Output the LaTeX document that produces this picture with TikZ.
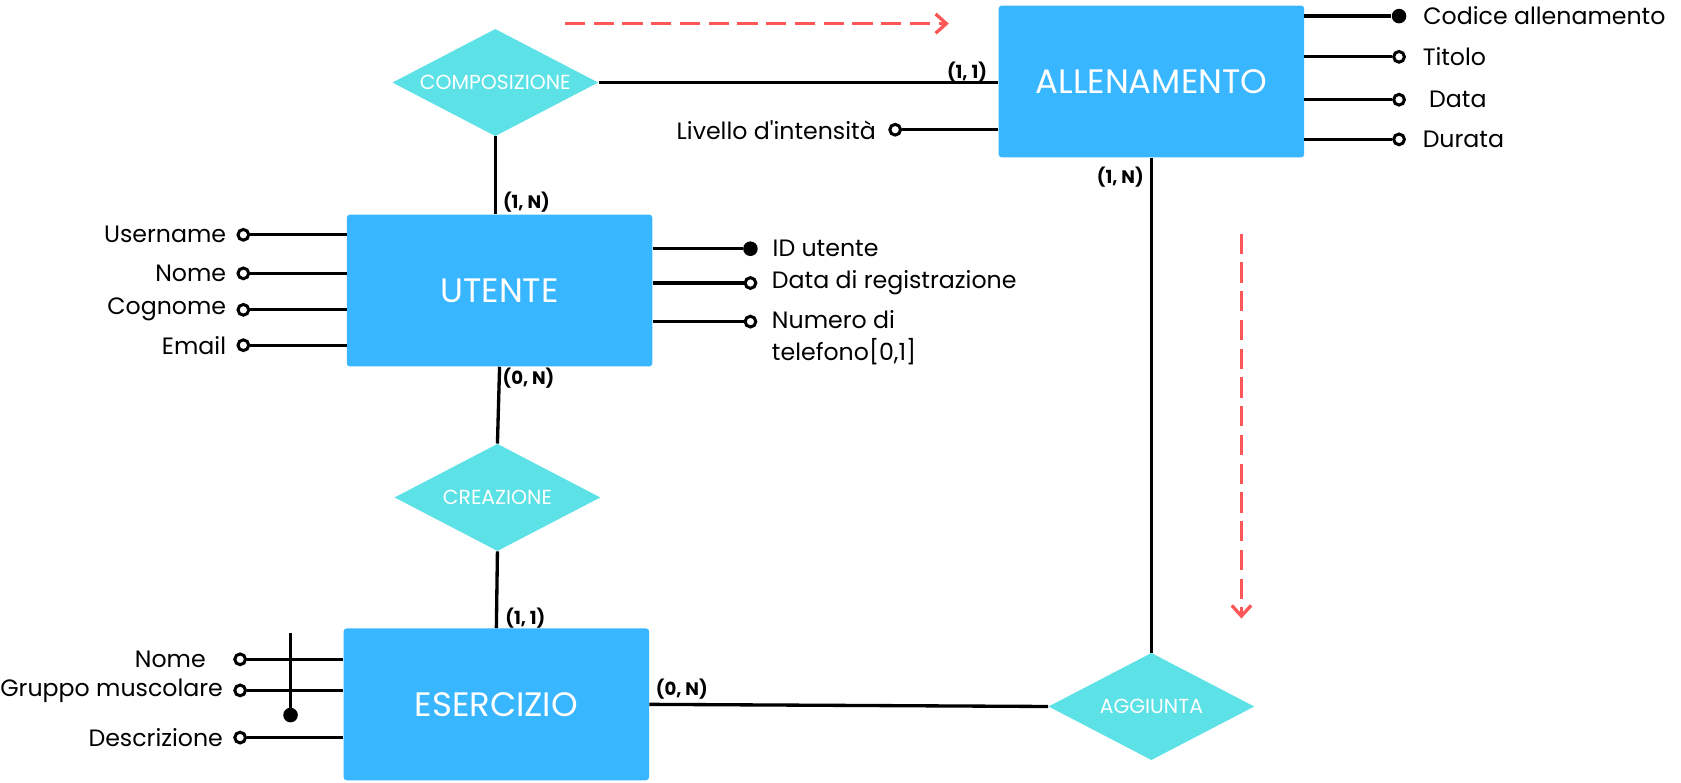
\documentclass[tikz,border=0pt]{standalone}
\usepackage{fontspec}
\setmainfont{Poppins}
\usetikzlibrary{shapes.geometric,arrows.meta,positioning}
\definecolor{entblue}{HTML}{38B6FF}
\definecolor{relcyan}{HTML}{5CE1E6}
\definecolor{arrred}{HTML}{FF5757}

\begin{document}
\begin{tikzpicture}[x=0.025cm,y=-0.025cm]%
  \tikzstyle{entn}=[rectangle,fill=entblue,rounded corners=2pt,text=white,inner sep=0,
    minimum width=7.12cm,minimum height=3.54cm,font=\fontsize{22.5}{26}\selectfont]
  \tikzstyle{reln}=[diamond,fill=relcyan,text=white,inner sep=0,aspect=1.92,
    minimum width=4.8cm,minimum height=2.5cm,font=\fontsize{13.5}{16}\selectfont]
  \tikzstyle{keyn}=[circle,fill=black,inner sep=0,minimum size=0.34cm]
  \tikzstyle{attd}=[circle,draw=black,fill=white,line width=2pt,inner sep=0,minimum size=0.25cm]
  \tikzstyle{attn}=[inner sep=1pt,font=\fontsize{15.7}{21}\selectfont]
  \tikzstyle{cardn}=[inner sep=0,font=\bfseries\fontsize{12}{14}\selectfont]
  \tikzstyle{linkn}=[draw=black,line width=2.2pt]
  \tikzstyle{redarr}=[draw=arrred,line width=2.2pt,dash pattern=on 0.47cm off 0.2cm,
    -{Straight Barb[length=2.5mm,width=4.5mm,line width=2.2pt]}]
  \useasboundingbox (0,0) rectangle (1568,730);
  % entities and relations
  \node(alle)[entn] at (1074,76){ALLENAMENTO};
  \node(uten)[entn] at (466,271){UTENTE};
  \node(eser)[entn] at (463,657){ESERCIZIO};
  \node(comp)[reln] at (462,77){COMPOSIZIONE};
  \node(crea)[reln] at (464,464){CREAZIONE};
  \node(aggi)[reln] at (1074,659){AGGIUNTA};
  \draw[linkn] (comp.east) -- (comp.east -| alle.west);
  \draw[linkn] (comp.south) -- (comp.south |- uten.north);
  \draw[linkn] (uten.south) -- (crea.north);
  \draw[linkn] (crea.south) -- (eser.north);
  \draw[linkn] (eser.east) -- (aggi.west);
  \draw[linkn] (alle.south) -- (aggi.north);
  % cardinalities
  \node(c11a)[cardn] at (902,67){(1, 1)};
  \node(c1nu)[cardn] at (491,189){(1, N)};
  \node(c0nu)[cardn] at (493,353){(0, N)};
  \node(c11e)[cardn] at (490,577){(1, 1)};
  \node(c0ne)[cardn] at (636,643){(0, N)};
  \node(c1na)[cardn] at (1045,165){(1, N)};
  % ALLENAMENTO attributes
  \node(cod)[keyn] at (1305,15){};
  \node(codt)[attn,right=3.5mm of cod]{Codice allenamento};
  \node(tit)[attd] at (1305,53){};
  \node(titt)[attn,right=3.5mm of tit]{Titolo};
  \node(dat)[attd] at (1305,93){};
  \node(datt)[attn,right=5mm of dat]{Data};
  \node(dur)[attd] at (1305,130){};
  \node(durt)[attn,right=3.5mm of dur]{Durata};
  \node(liv)[attd] at (835,121){};
  \node(livt)[attn,left=2.5mm of liv]{Livello d\textquotesingle intensità};
  \draw[linkn] (alle.east |- cod) -- (cod);
  \draw[linkn] (alle.east |- tit) -- (tit);
  \draw[linkn] (alle.east |- dat) -- (dat);
  \draw[linkn] (alle.east |- dur) -- (dur);
  \draw[linkn] (alle.west |- liv) -- (liv);
  % UTENTE attributes
  \node(usr)[attd] at (227,219){};
  \node(usrt)[attn,left=2mm of usr]{Username};
  \node(nomu)[attd] at (227,255){};
  \node(nomut)[attn,left=2mm of nomu]{Nome};
  \node(cog)[attd] at (227,289){};
  \node(cogt)[attn,left=2mm of cog]{Cognome};
  \node(ema)[attd] at (227,322){};
  \node(emat)[attn,left=2mm of ema]{Email};
  \node(idu)[keyn] at (700,232){};
  \node(idut)[attn,right=3mm of idu]{ID utente};
  \node(reg)[attd] at (700,264){};
  \node(regt)[attn,right=3mm of reg]{Data di registrazione};
  \node(tel)[attd] at (700,300){};
  \node(telt)[attn,align=left,right=3mm of tel,yshift=-0.375cm]{Numero di\\telefono[0,1]};
  \draw[linkn] (uten.west |- usr) -- (usr);
  \draw[linkn] (uten.west |- nomu) -- (nomu);
  \draw[linkn] (uten.west |- cog) -- (cog);
  \draw[linkn] (uten.west |- ema) -- (ema);
  \draw[linkn] (uten.east |- idu) -- (idu);
  \draw[linkn] (uten.east |- reg) -- (reg);
  \draw[linkn] (uten.east |- tel) -- (tel);
  % ESERCIZIO attributes
  \node(nome)[attd] at (224,615){};
  \node(nomet)[attn,left=6mm of nome]{Nome};
  \node(gru)[attd] at (224,644){};
  \node(grut)[attn,left=2mm of gru]{Gruppo muscolare};
  \node(des)[attd] at (224,688){};
  \node(dest)[attn,left=2mm of des]{Descrizione};
  \draw[linkn] (eser.west |- nome) -- (nome);
  \draw[linkn] (eser.west |- gru) -- (gru);
  \draw[linkn] (eser.west |- des) -- (des);
  \coordinate(idtop) at (271,590);
  \node(idend)[keyn] at (271,667){};
  \draw[linkn] (idtop) -- (idend.center);
  % reading direction
  \coordinate(ra1) at (527,22);
  \coordinate(ra2) at (885,22);
  \draw[redarr] (ra1) -- (ra2);
  \coordinate(rb1) at (1158,218);
  \coordinate(rb2) at (1158,577);
  \draw[redarr] (rb1) -- (rb2);
\end{tikzpicture}
\end{document}
